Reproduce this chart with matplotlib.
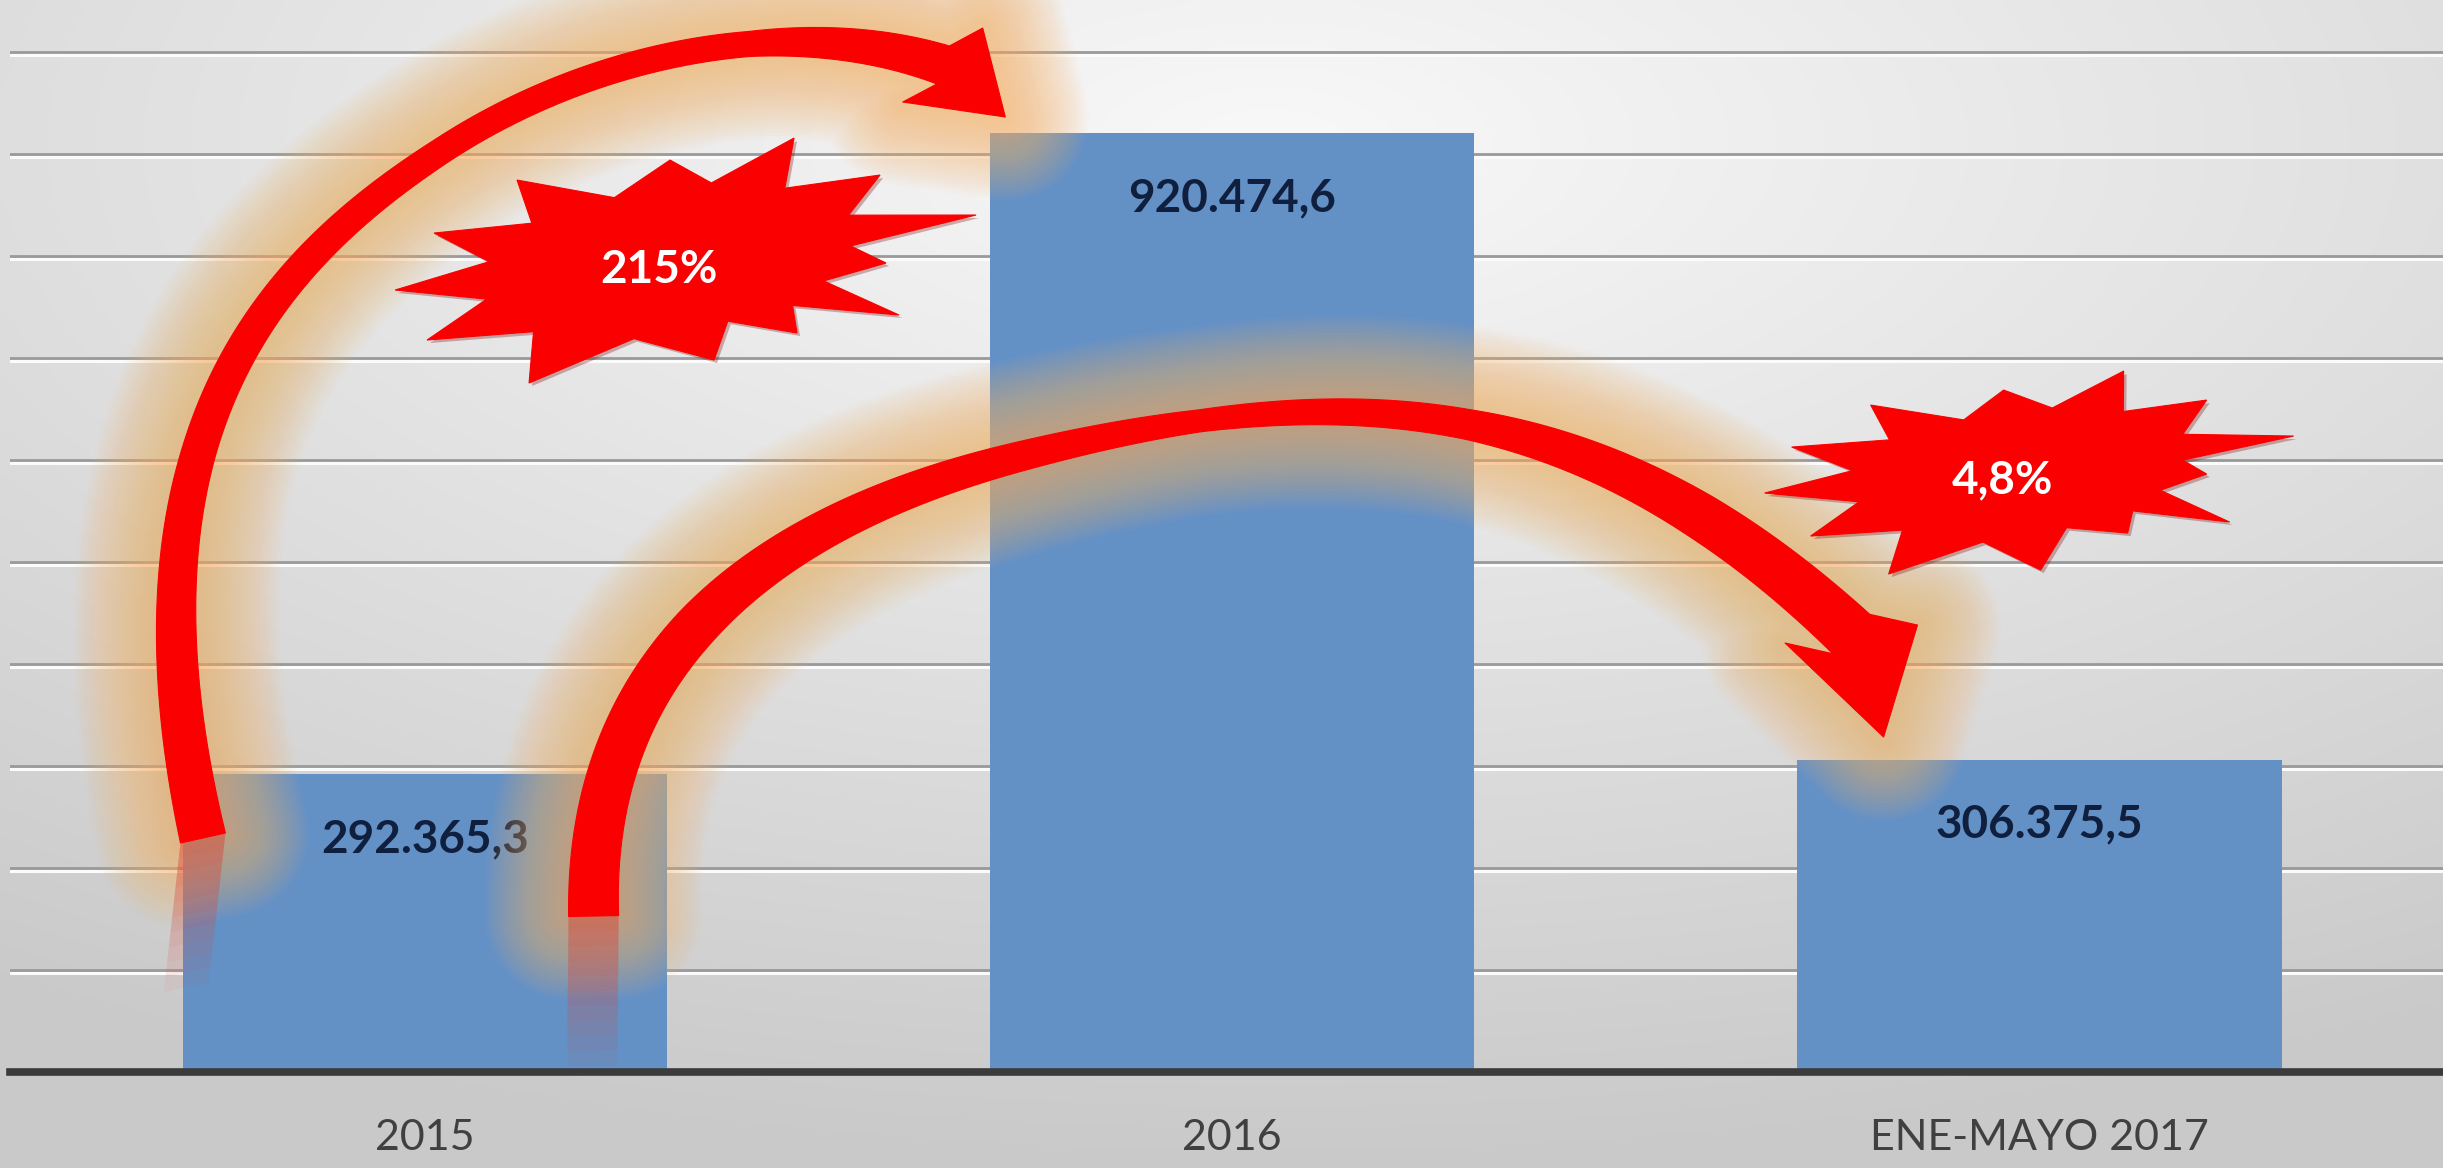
import matplotlib
matplotlib.use('Agg')
import matplotlib.pyplot as plt
import numpy as np
from matplotlib.patches import Polygon
from matplotlib.bezier import BezierSegment

plt.rcParams['font.family'] = ['Lato', 'DejaVu Sans']

categories = ['2015', '2016', 'ENE-MAYO 2017']
values = [292365.3, 920474.6, 306375.5]
value_labels = ['292.365,3', '920.474,6', '306.375,5']
growth_labels = ['215%', '4,8%']

# arrow centre lines in data coords (category index, value): two cubic segments
arrow_2015_2016 = [(-0.275, 229400), (-0.390, 629400), (-0.185, 798000), (0.024, 904900),
                   (0.211, 1001000), (0.454, 1037300), (0.642, 987300)]
arrow_2016_2017 = [(0.209, 152900), (0.201, 407800), (0.425, 539200), (0.725, 601000),
                   (1.145, 687300), (1.452, 664700), (1.767, 429400)]
# arrow heads: corner, corner, tip
head_2015_2016 = [(0.691, 1023500), (0.592, 951000), (0.719, 936300)]
head_2016_2017 = [(1.685, 420600), (1.849, 438200), (1.807, 328400)]
# stroke width (px) along the arrow, as (fraction of length, width)
width_2015_2016 = [(0, 46), (0.3, 34), (0.6, 26), (0.85, 25), (1.0, 40)]
width_2016_2017 = [(0, 50), (0.2, 44), (0.55, 22), (0.72, 30), (0.88, 46), (1.0, 54)]

# starbursts: center in data coords, spike tips as pixel offsets (x right, y down)
star_centers = [(0.295, 794100), (1.983, 588200)]
star_text_xy = [(0.290, 786000), (1.954, 580000)]
star_tips = [
    [(131, -124), (217, -87), (313, -47), (223, 1), (236, 53), (134, 71), (51, 98),
     (-134, 121), (-236, 78), (-268, 28), (-229, -29), (-146, -82), (7, -102)],
    [(98, -101), (181, -72), (268, -36), (181, 2), (204, 50), (102, 61), (15, 98),
     (-137, 102), (-215, 64), (-261, 21), (-234, -25), (-155, -67), (-22, -82)],
]

BAR_BLUE = '#6391c6'
RED = '#fa0000'
GLOW = '#f7b66c'

fig = plt.figure(figsize=(24.43, 11.68), dpi=100)

# soft grey radial background
bg = fig.add_axes([0, 0, 1, 1], zorder=-10)
gx, gy = np.meshgrid(np.linspace(0, 1, 240), np.linspace(0, 1, 120))
r = np.sqrt(((gx - 0.52) / 1.0) ** 2 + ((gy - 0.12) / 0.95) ** 2)
shade = np.clip(0.975 - 0.2 * r, 0.79, 1.0)
bg.imshow(np.dstack([shade] * 3), aspect='auto', extent=[0, 1, 0, 1],
          origin='upper', interpolation='bicubic')
bg.axis('off')

ax = fig.add_axes([10 / 2443, 96 / 1168, 1 - 10 / 2443, 1 - 96 / 1168])
ax.patch.set_visible(False)
ax.set_xlim(-0.514, 2.5)
ax.set_ylim(0, 1051000)

x = np.arange(len(categories))

# embossed gridlines
grid_vals = np.arange(100000, 1000001, 100000)
ax.hlines(grid_vals - 2900, -0.6, 2.6, color='#fbfbfb', lw=2.2, zorder=1)
ax.hlines(grid_vals, -0.6, 2.6, color='#9a9a9a', lw=2.0, zorder=1)

ax.bar(x, values, width=0.6, color=BAR_BLUE, zorder=2)
ax.axhline(0, color='#3b3b3b', lw=5.5, zorder=3, clip_on=False)

for xi, v, lbl in zip(x, values, value_labels):
    ax.annotate(lbl, (xi, v), xytext=(0, -47), textcoords='offset points',
                ha='center', va='center', fontsize=33, fontweight='bold',
                color='#0f1f3d', zorder=3)

ax.set_xticks(x)
ax.set_xticklabels(categories, fontsize=31, color='#404040')
ax.tick_params(axis='x', length=0, pad=34)
ax.tick_params(axis='y', left=False, labelleft=False)
for s in ax.spines.values():
    s.set_visible(False)

to_px = ax.transData.transform
to_data = ax.transData.inverted().transform


def arrow_outline(ctrl, widths, head):
    P = to_px(ctrl)
    t = np.linspace(0, 1, 120)
    c = np.vstack([BezierSegment(P[0:4])(t), BezierSegment(P[3:7])(t)[1:]])
    d = np.gradient(c, axis=0)
    d /= np.hypot(d[:, 0], d[:, 1])[:, None]
    nrm = np.column_stack([-d[:, 1], d[:, 0]])
    seg = np.hypot(*np.diff(c, axis=0).T)
    s = np.concatenate([[0], np.cumsum(seg)]) / seg.sum()
    ks, kw = zip(*widths)
    hw = np.interp(s, ks, kw)[:, None] / 2
    left, right = c + nrm * hw, c - nrm * hw
    c1, c2, tip = to_px(head)
    if np.dot(c1 - c[-1], nrm[-1]) < np.dot(c2 - c[-1], nrm[-1]):
        c1, c2 = c2, c1
    outline = np.vstack([left, [c1, tip, c2], right[::-1]])
    return outline, left[0], right[0], d[0]


for ctrl, widths, head in [(arrow_2015_2016, width_2015_2016, head_2015_2016),
                           (arrow_2016_2017, width_2016_2017, head_2016_2017)]:
    outline, tl, tr, d0 = arrow_outline(ctrl, widths, head)
    poly = to_data(outline)
    # soft orange glow
    for w in np.linspace(8, 120, 24):
        ax.add_patch(Polygon(poly, closed=True, fill=False, ec=GLOW, lw=w, alpha=0.045,
                             joinstyle='round', zorder=4))
    # faded reflection under the tail
    mirror = np.array([0.5 * d0[0], -d0[1]])
    mirror /= np.hypot(*mirror)
    for k in range(1, 11):
        L = 15 * k
        quad = np.array([tl, tr, tr + mirror * L, tl + mirror * L])
        ax.add_patch(Polygon(to_data(quad), closed=True, fc='#e0463c', ec='none',
                             alpha=0.06, zorder=4))
    ax.add_patch(Polygon(poly, closed=True, fc=RED, ec=RED, lw=0.8,
                         joinstyle='round', zorder=5))

# starbursts
for center, tips, txt, txy in zip(star_centers, star_tips, growth_labels, star_text_xy):
    cx, cy = to_px(center)
    verts = []
    n = len(tips)
    for i in range(n):
        tx, ty = tips[i]
        nx, ny = tips[(i + 1) % n]
        verts.append((cx + tx, cy - ty))
        verts.append((cx + 0.7 * (tx + nx) / 2, cy - 0.7 * (ty + ny) / 2))
    verts = np.array(verts)
    ax.add_patch(Polygon(to_data(verts + np.array([3, -3])), closed=True,
                         fc='#7a0000', ec='none', alpha=0.3, zorder=6))
    ax.add_patch(Polygon(to_data(verts), closed=True, fc=RED, ec=RED, lw=0.8, zorder=6))
    ax.text(txy[0], txy[1], txt, ha='center', va='center', fontsize=33,
            fontweight='bold', color='white', zorder=7)

fig.savefig('out.png', dpi=100)
